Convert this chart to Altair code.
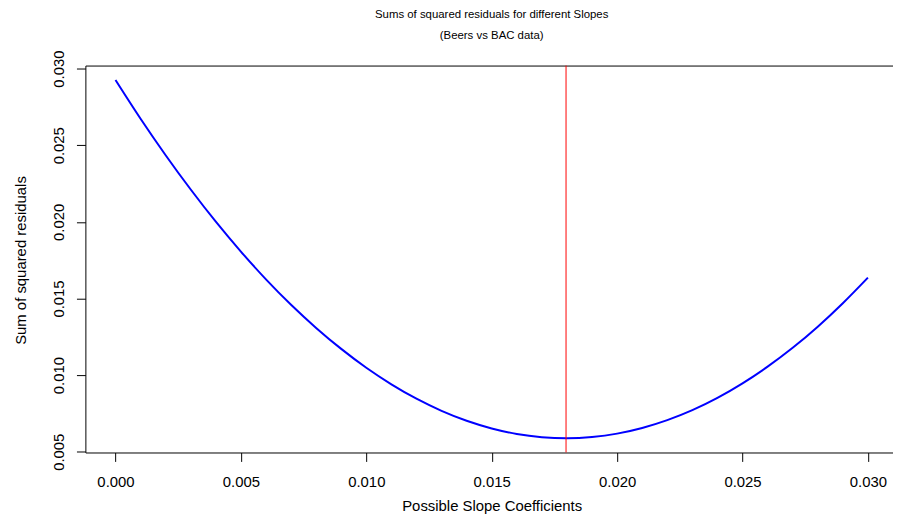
import altair as alt
import pandas as pd

# Candidate slope coefficients (x) and sum of squared residuals (y)
slopes = [0.000, 0.001, 0.002, 0.003, 0.004, 0.005, 0.006, 0.007, 0.008, 0.009,
          0.010, 0.011, 0.012, 0.013, 0.014, 0.015, 0.016, 0.017, 0.018, 0.019,
          0.020, 0.021, 0.022, 0.023, 0.024, 0.025, 0.026, 0.027, 0.028, 0.029,
          0.030]
ssr = [0.02926, 0.02673, 0.02435, 0.02211, 0.02001, 0.01806, 0.01625, 0.01459,
       0.01308, 0.01171, 0.01048, 0.00940, 0.00846, 0.00767, 0.00702, 0.00652,
       0.00616, 0.00595, 0.00588, 0.00596, 0.00618, 0.00655, 0.00706, 0.00771,
       0.00851, 0.00946, 0.01055, 0.01178, 0.01316, 0.01469, 0.01636]

best_slope = [0.017964]

x_ticks = [0.000, 0.005, 0.010, 0.015, 0.020, 0.025, 0.030]
y_ticks = [0.005, 0.010, 0.015, 0.020, 0.025, 0.030]

df = pd.DataFrame({"slope": slopes, "ssr": ssr})
rule_df = pd.DataFrame({"slope": best_slope})

FONT = "Liberation Sans"

x_scale = alt.Scale(domain=[-0.0012, 0.031], nice=False, zero=False)
y_scale = alt.Scale(domain=[0.00495, 0.0302], nice=False, zero=False)

x_axis = alt.Axis(
    orient="bottom",
    values=x_ticks, format=".3f", title="Possible Slope Coefficients",
    grid=False, domain=True, domainColor="black", domainWidth=1,
    tickColor="black", tickSize=9, tickWidth=1,
    labelFont=FONT, labelFontSize=15, labelColor="black", labelPadding=13,
    labelFlush=False, labelOverlap=False,
    titleFont=FONT, titleFontSize=15, titleFontWeight="normal", titleColor="black",
    titleX=409.5, titleY=58, titleBaseline="alphabetic", titleAlign="center",
)
x_top_axis = alt.Axis(
    orient="top", title=None, labels=False, ticks=False, grid=False,
    domain=True, domainColor="black", domainWidth=1,
)
y_axis = alt.Axis(
    values=y_ticks, format=".3f", title="Sum of squared residuals",
    grid=False, domain=True, domainColor="black", domainWidth=1,
    tickColor="black", tickSize=9, tickWidth=1,
    labelFont=FONT, labelFontSize=15, labelColor="black", labelPadding=18.5,
    labelAngle=270, labelAlign="center", labelBaseline="middle",
    labelFlush=False, labelOverlap=False,
    titleFont=FONT, titleFontSize=15, titleFontWeight="normal", titleColor="black",
    titleAngle=270, titleX=-65.5, titleY=196, titleBaseline="middle", titleAlign="center",
)

line = alt.Chart(df).mark_line(color="#0000FF", strokeWidth=2, interpolate="monotone").encode(
    x=alt.X("slope:Q", scale=x_scale, axis=x_axis),
    y=alt.Y("ssr:Q", scale=y_scale, axis=y_axis),
)

rule = alt.Chart(rule_df).mark_rule(color="#FF0000", strokeWidth=1).encode(
    x=alt.X("slope:Q", scale=x_scale, axis=x_top_axis),
)

chart = alt.layer(line, rule).resolve_axis(x="independent").properties(
    width=814,
    height=390,
    autosize=alt.AutoSizeParams(type="none"),
    padding={"left": 78, "top": 56, "right": 0, "bottom": 62},
    title=alt.TitleParams(
        text="Sums of squared residuals for different Slopes",
        subtitle="(Beers vs BAC data)",
        font=FONT, fontSize=11.5, fontWeight="normal", color="black",
        subtitleFont=FONT, subtitleFontSize=11.5, subtitleColor="black",
        subtitlePadding=9, anchor="middle", frame="group", offset=9, dx=2.5,
    ),
).configure_view(stroke=None)

chart.save("out.html", embed_options={"renderer": "svg", "actions": False})
